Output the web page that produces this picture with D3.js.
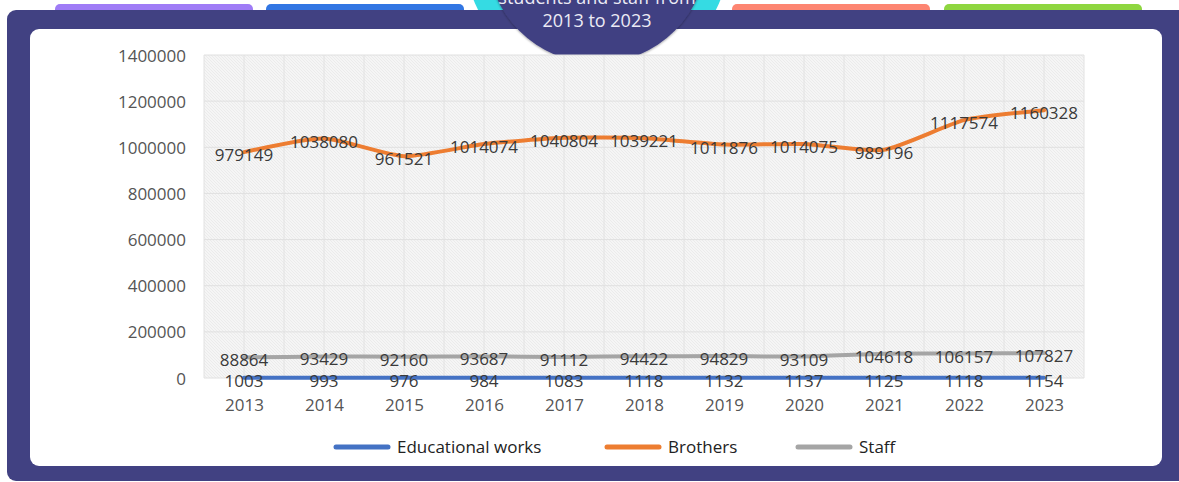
<!DOCTYPE html>
<html>
<head>
<meta charset="utf-8">
<script src="https://cdn.jsdelivr.net/npm/d3@7"></script>
<style>
  html, body { margin: 0; padding: 0; background: #ffffff; overflow: hidden; }
  svg { display: block; }
</style>
</head>
<body>
<svg id="chart" width="1179" height="482"></svg>
<script>
const years = ["2013","2014","2015","2016","2017","2018","2019","2020","2021","2022","2023"];
const educationalWorks = [1003, 993, 976, 984, 1083, 1118, 1132, 1137, 1125, 1118, 1154];
const brothers = [979149, 1038080, 961521, 1014074, 1040804, 1039221, 1011876, 1014075, 989196, 1117574, 1160328];
const staff = [88864, 93429, 92160, 93687, 91112, 94422, 94829, 93109, 104618, 106157, 107827];
const yTicks = [0, 200000, 400000, 600000, 800000, 1000000, 1200000, 1400000];
const seriesNames = ["Educational works", "Brothers", "Staff"];
const seriesColors = ["#4472C4", "#ED7D31", "#A5A5A5"];
const titleLines = ["students and staff from", "2013 to 2023"];
const tabColors = ["#9f7cf6", "#3276e3", "#fd8571", "#8ed640"];

const series = [educationalWorks, brothers, staff];

const svg = d3.select("#chart");
const defs = svg.append("defs");

// hatch pattern for plot background
const pat = defs.append("pattern")
  .attr("id", "hatch").attr("patternUnits", "userSpaceOnUse")
  .attr("width", 3).attr("height", 3);
pat.append("rect").attr("width", 3).attr("height", 3).attr("fill", "#f5f5f5");
pat.append("path").attr("d", "M-1,-1 L4,4 M-1,2 L1,4 M2,-1 L4,1")
  .attr("stroke", "#e9e9e9").attr("stroke-width", 0.8);

const shadow = defs.append("filter").attr("id", "shadow")
  .attr("x", "-20%").attr("y", "-20%").attr("width", "140%").attr("height", "140%");
shadow.append("feDropShadow").attr("dx", 0).attr("dy", 1).attr("stdDeviation", 1.2)
  .attr("flood-color", "#000").attr("flood-opacity", 0.35);

// tab pills
const tabX = d3.scaleOrdinal().domain([0,1,2,3]).range([55, 266, 732, 944]);
svg.selectAll("rect.tab").data(tabColors).join("rect")
  .attr("class", "tab")
  .attr("x", (d, i) => tabX(i)).attr("y", 4)
  .attr("width", 198).attr("height", 13).attr("rx", 5)
  .attr("fill", d => d);

// cyan ring behind
svg.append("circle").attr("cx", 597).attr("cy", -47).attr("r", 132).attr("fill", "#35dbe3");

// outer frame
svg.append("rect").attr("x", 7).attr("y", 10).attr("width", 1190).attr("height", 471)
  .attr("rx", 9).attr("fill", "#414182");

// white panel
svg.append("rect").attr("x", 30).attr("y", 29).attr("width", 1132).attr("height", 437)
  .attr("rx", 9).attr("fill", "#ffffff");

// title circle
svg.append("circle").attr("cx", 597).attr("cy", -47).attr("r", 110)
  .attr("fill", "#414182").attr("filter", "url(#shadow)");
svg.append("g").selectAll("text").data(titleLines).join("text")
  .attr("x", 597).attr("y", (d, i) => 4 + i * 23)
  .attr("text-anchor", "middle")
  .attr("font-family", "'Open Sans', 'Noto Sans', sans-serif")
  .attr("font-size", 18).attr("fill", "#ecebf5")
  .text(d => d);

// scales
const x = d3.scalePoint().domain(years).range([204, 1084]).padding(0.5);
const y = d3.scaleLinear().domain([0, 1400000]).range([378, 55]);
const bandW = x.step();

// plot background
svg.append("rect").attr("x", 204).attr("y", y(1400000))
  .attr("width", 1084 - 204).attr("height", y(0) - y(1400000))
  .attr("fill", "url(#hatch)");

// gridlines
const vGrid = d3.range(0, years.length * 2 + 1).map(k => 204 + k * bandW / 2);
svg.append("g").selectAll("line").data(vGrid).join("line")
  .attr("x1", d => d).attr("x2", d => d)
  .attr("y1", y(1400000)).attr("y2", y(0))
  .attr("stroke", "#e2e2e2").attr("stroke-width", 1);
svg.append("g").selectAll("line").data(yTicks).join("line")
  .attr("x1", 204).attr("x2", 1084)
  .attr("y1", d => y(d)).attr("y2", d => y(d))
  .attr("stroke", "#e0e0e0").attr("stroke-width", 1);

const labelFont = "'Open Sans', 'Noto Sans', sans-serif";

// y axis
const yAxis = svg.append("g").attr("transform", "translate(204,0)")
  .call(d3.axisLeft(y).tickValues(yTicks).tickFormat(d3.format("d")).tickSize(0).tickPadding(18));
yAxis.select(".domain").remove();
yAxis.selectAll("text").attr("font-family", labelFont).attr("font-size", 17)
  .attr("fill", "#555555").attr("dy", "0.36em");

// x axis
const xAxis = svg.append("g").attr("transform", `translate(0,${y(0)})`)
  .call(d3.axisBottom(x).tickSize(0).tickPadding(27));
xAxis.select(".domain").remove();
xAxis.selectAll("text").attr("font-family", labelFont).attr("font-size", 17)
  .attr("fill", "#555555").attr("dy", "0.36em");

// lines
const line = d3.line().x((d, i) => x(years[i])).y(d => y(d)).curve(d3.curveCardinal.tension(0.4));
const drawOrder = [2, 0, 1];
drawOrder.forEach(s => {
  svg.append("path").datum(series[s])
    .attr("d", line)
    .attr("fill", "none")
    .attr("stroke", seriesColors[s])
    .attr("stroke-width", 4)
    .attr("stroke-linecap", "round")
    .attr("stroke-linejoin", "round");
});

// data labels
series.forEach((vals, s) => {
  svg.append("g").selectAll("text").data(vals).join("text")
    .attr("x", (d, i) => x(years[i]))
    .attr("y", d => y(d) + 9)
    .attr("text-anchor", "middle")
    .attr("font-family", labelFont).attr("font-size", 17)
    .attr("fill", "#3a3a3a")
    .text(d => d);
});

// legend
const legendX = [336, 607, 798];
const lg = svg.append("g");
seriesNames.forEach((n, s) => {
  lg.append("line").attr("x1", legendX[s]).attr("x2", legendX[s] + 52)
    .attr("y1", 447).attr("y2", 447)
    .attr("stroke", seriesColors[s]).attr("stroke-width", 5).attr("stroke-linecap", "round");
  lg.append("text").attr("x", legendX[s] + 61).attr("y", 453)
    .attr("font-family", labelFont).attr("font-size", 17).attr("fill", "#222222")
    .text(n);
});
</script>
</body>
</html>
